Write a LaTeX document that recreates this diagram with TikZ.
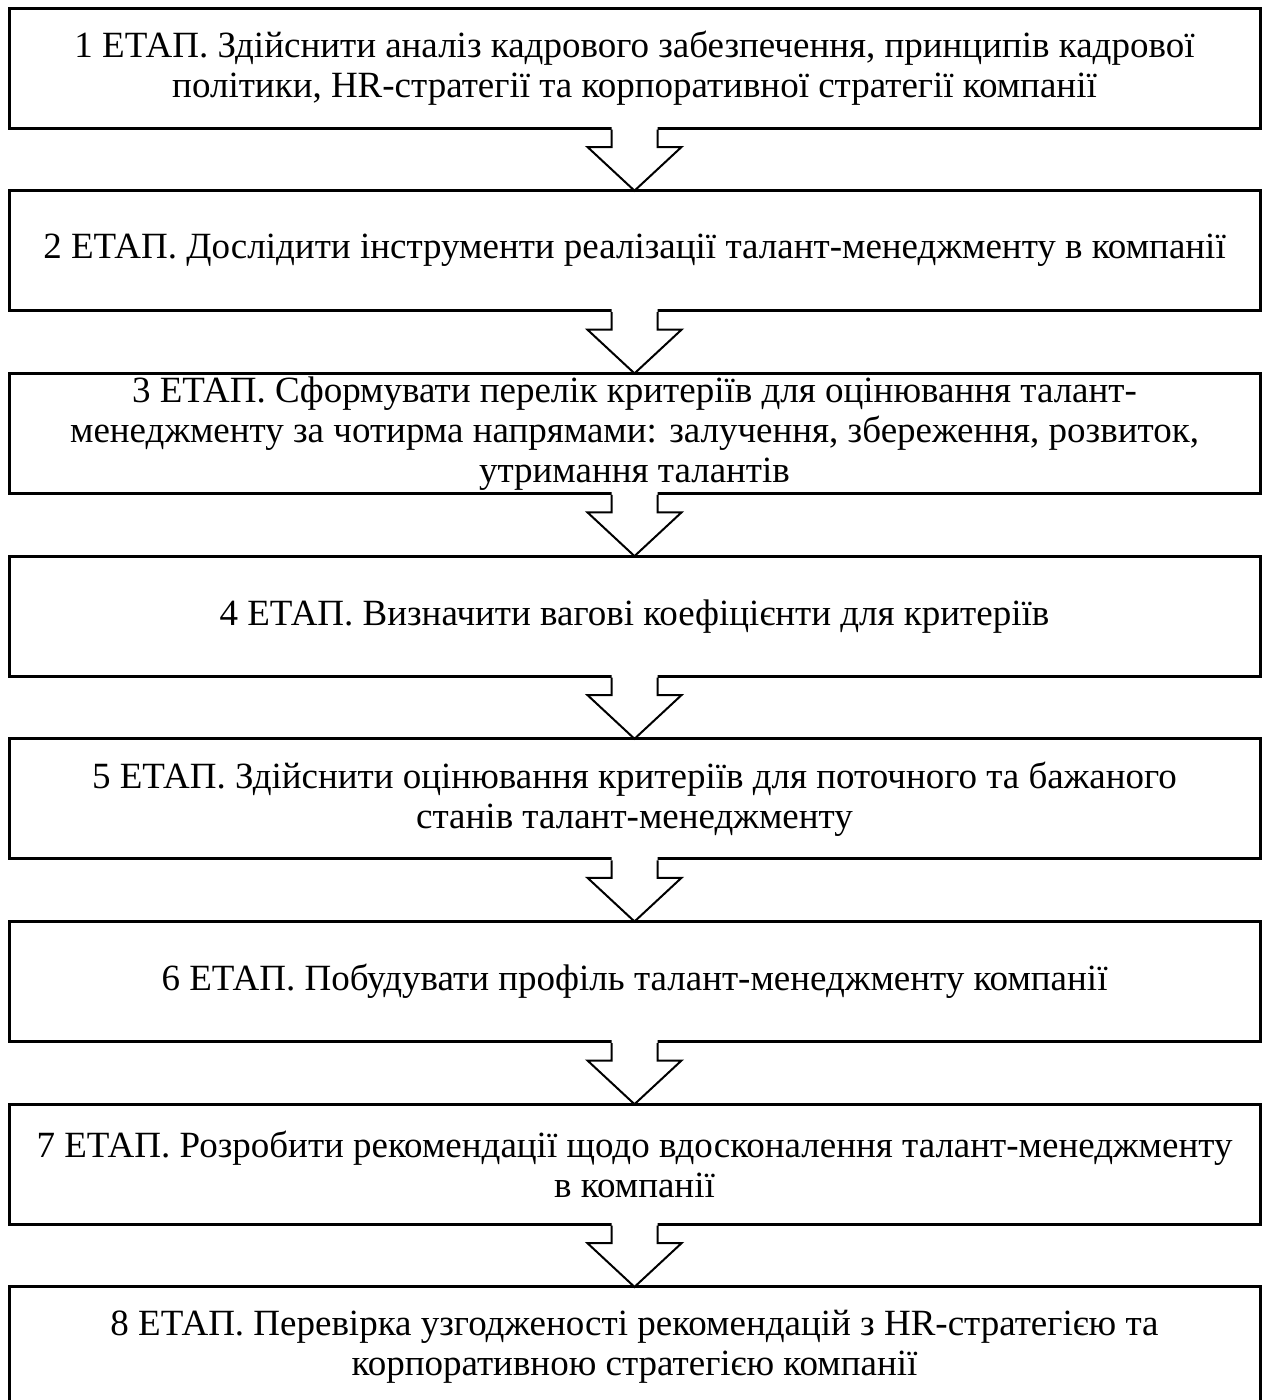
\documentclass[tikz,border=0pt]{standalone}
\usepackage{fontspec}
\setmainfont{Liberation Serif}
\usetikzlibrary{calc}
\tikzset{
  stagebox/.style={draw, line width=3pt, minimum width=1251pt, minimum height=120pt,
    align=center, font=\fontsize{37}{40}\selectfont, inner sep=0pt, outer sep=0pt, fill=white},
  arrowline/.style={line width=2pt, line join=miter}
}
\begin{document}
\begin{tikzpicture}[x=1pt,y=1pt]
\useasboundingbox (0,0) rectangle (1268,-1400);
\clip (0,0) rectangle (1268,-1400);
\node[stagebox] (b1) at (634.5,-68) {1 ЕТАП. Здійснити аналіз кадрового забезпечення, принципів кадрової\\політики, HR-стратегії та корпоративної стратегії компанії};
\node[stagebox] (b2) at (634.5,-250.7) {2 ЕТАП. Дослідити інструменти реалізації талант-менеджменту в компанії};
\node[stagebox] (b3) at (634.5,-433.4) {3 ЕТАП. Сформувати перелік критеріїв для оцінювання талант-\\менеджменту за чотирма напрямами: залучення, збереження, розвиток,\\утримання талантів};
\node[stagebox] (b4) at (634.5,-616.1) {4 ЕТАП. Визначити вагові коефіцієнти для критеріїв};
\node[stagebox] (b5) at (634.5,-798.8) {5 ЕТАП. Здійснити оцінювання критеріїв для поточного та бажаного\\станів талант-менеджменту};
\node[stagebox] (b6) at (634.5,-981.5) {6 ЕТАП. Побудувати профіль талант-менеджменту компанії};
\node[stagebox] (b7) at (634.5,-1164.2) {7 ЕТАП. Розробити рекомендації щодо вдосконалення талант-менеджменту\\в компанії};
\node[stagebox] (b8) at (634.5,-1346.9) {8 ЕТАП. Перевірка узгодженості рекомендацій з HR-стратегією та\\корпоративною стратегією компанії};
\foreach \a/\b in {b1/b2,b2/b3,b3/b4,b4/b5,b5/b6,b6/b7,b7/b8}{
  \fill[white] ($(\a.south)+(-23,2)$) -- ($(\a.south)+(-23,-19)$) -- ($(\a.south)+(-47,-19)$)
    -- (\b.north) -- ($(\a.south)+(47,-19)$) -- ($(\a.south)+(23,-19)$) -- ($(\a.south)+(23,2)$) -- cycle;
  \draw[arrowline] ($(\a.south)+(-23,-1.5)$) -- ($(\a.south)+(-23,-19)$) -- ($(\a.south)+(-47,-19)$)
    -- (\b.north) -- ($(\a.south)+(47,-19)$) -- ($(\a.south)+(23,-19)$) -- ($(\a.south)+(23,-1.5)$);
}
\end{tikzpicture}
\end{document}
